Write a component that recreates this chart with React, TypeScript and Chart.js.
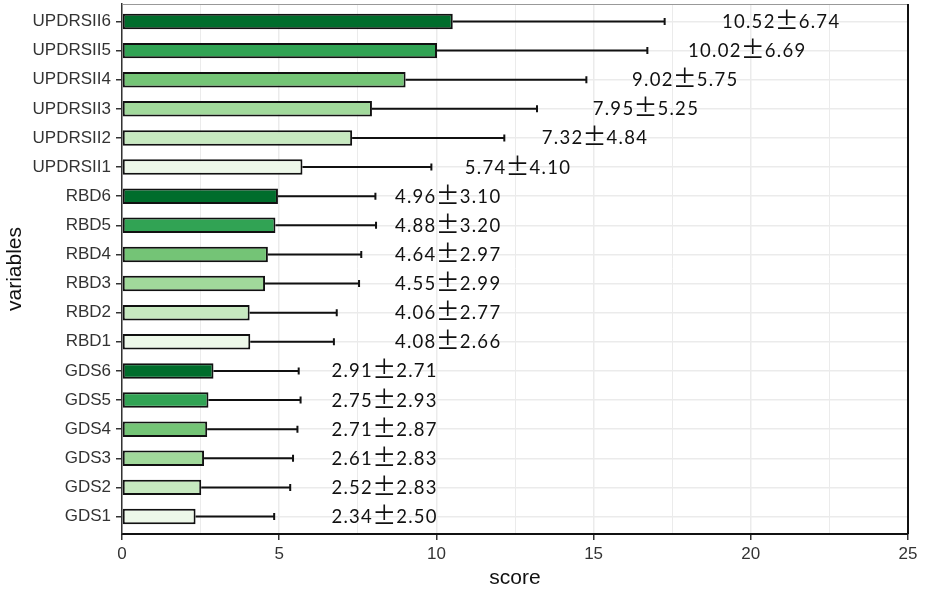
import { useEffect, useRef } from "react";
import { Chart, registerables } from "chart.js";
import type { ChartConfiguration, Plugin } from "chart.js";

Chart.register(...registerables);

const categories = [
  "UPDRSII6",
  "UPDRSII5",
  "UPDRSII4",
  "UPDRSII3",
  "UPDRSII2",
  "UPDRSII1",
  "RBD6",
  "RBD5",
  "RBD4",
  "RBD3",
  "RBD2",
  "RBD1",
  "GDS6",
  "GDS5",
  "GDS4",
  "GDS3",
  "GDS2",
  "GDS1",
];
const means = [
  10.52, 10.02, 9.02, 7.95, 7.32, 5.74, 4.96, 4.88, 4.64, 4.55, 4.06, 4.08, 2.91,
  2.75, 2.71, 2.61, 2.52, 2.34,
];
const sds = [
  6.74, 6.69, 5.75, 5.25, 4.84, 4.1, 3.1, 3.2, 2.97, 2.99, 2.77, 2.66, 2.71, 2.93,
  2.87, 2.83, 2.83, 2.5,
];
// where each "mean ± sd" label starts, in score units
const labelAt = [
  19.08, 18.0, 16.22, 14.97, 13.35, 10.9, 8.68, 8.68, 8.68, 8.68, 8.68, 8.68, 6.66,
  6.66, 6.66, 6.66, 6.66, 6.66,
];
// Greens, time point 6 down to 1
const shades = ["#006D2C", "#31A354", "#74C476", "#A1D99B", "#C7E9C0", "#EDF8E9"];

const errorBars: Plugin<"bar"> = {
  id: "errorBars",
  afterDatasetsDraw(chart) {
    const { ctx } = chart;
    const x = chart.scales.x;
    const y = chart.scales.y;
    ctx.save();
    ctx.strokeStyle = "#111";
    ctx.lineWidth = 2;
    means.forEach((m, i) => {
      const py = y.getPixelForValue(i);
      const x1 = x.getPixelForValue(m);
      const x2 = x.getPixelForValue(m + sds[i]);
      ctx.beginPath();
      ctx.moveTo(x1, py);
      ctx.lineTo(x2, py);
      ctx.moveTo(x2, py - 3.5);
      ctx.lineTo(x2, py + 3.5);
      ctx.stroke();
    });
    ctx.restore();
  },
};

const valueLabels: Plugin<"bar"> = {
  id: "valueLabels",
  afterDraw(chart) {
    const { ctx } = chart;
    const x = chart.scales.x;
    const y = chart.scales.y;
    ctx.save();
    ctx.fillStyle = "#111";
    ctx.textBaseline = "alphabetic";
    means.forEach((m, i) => {
      const x0 = x.getPixelForValue(labelAt[i]);
      const base = y.getPixelForValue(i) + 6.5;
      const left = m.toFixed(2);
      const right = sds[i].toFixed(2);
      ctx.font = "18.5px Lato";
      (ctx as any).letterSpacing = "1.3px";
      ctx.textAlign = "left";
      ctx.fillText(left, x0, base);
      const w1 = ctx.measureText(left).width;
      const pmCenter = x0 + w1 + 11;
      ctx.fillText(right, pmCenter + 12, base);
      (ctx as any).letterSpacing = "0px";
      ctx.font = "24px 'Noto Sans CJK SC'";
      ctx.textAlign = "center";
      ctx.fillText("\u00B1", pmCenter, base + 1);
    });
    ctx.restore();
  },
};

const panelFrame: Plugin<"bar"> = {
  id: "panelFrame",
  afterDraw(chart) {
    const { ctx, chartArea } = chart;
    ctx.save();
    ctx.strokeStyle = "#999";
    ctx.lineWidth = 1;
    ctx.beginPath();
    ctx.moveTo(chartArea.left, chartArea.top + 0.5);
    ctx.lineTo(chartArea.right, chartArea.top + 0.5);
    ctx.stroke();
    ctx.strokeStyle = "#111";
    ctx.lineWidth = 2;
    ctx.beginPath();
    ctx.moveTo(chartArea.right, chartArea.top);
    ctx.lineTo(chartArea.right, chartArea.bottom);
    ctx.stroke();
    ctx.restore();
  },
};

export default function App() {
  const canvasRef = useRef<HTMLCanvasElement>(null);
  const chartInstance = useRef<Chart | null>(null);

  useEffect(() => {
    document.body.style.margin = "0";
    if (!canvasRef.current) return;
    const ctx = canvasRef.current.getContext("2d");
    if (!ctx) return;

    const config: ChartConfiguration<"bar"> = {
      type: "bar",
      data: {
        datasets: [
          {
            data: means.map((m, i) => ({ x: m, y: i })) as any,
            backgroundColor: categories.map((_, i) => shades[i % 6]),
            borderColor: "#111",
            borderWidth: 2,
            borderSkipped: false,
            barPercentage: 0.53,
            categoryPercentage: 1,
          },
        ],
      },
      options: {
        indexAxis: "y",
        animation: false,
        responsive: true,
        maintainAspectRatio: false,
        layout: { padding: { top: 4, right: 27, left: 0, bottom: 0 } },
        scales: {
          x: {
            type: "linear",
            min: 0,
            max: 25,
            afterFit: (scale) => {
              scale.height = 57;
              scale.paddingLeft = 0;
              scale.paddingRight = 0;
            },
            ticks: {
              stepSize: 2.5,
              autoSkip: false,
              maxRotation: 0,
              padding: 4,
              color: "#333",
              font: { family: "'Liberation Sans', Arial", size: 17 },
              callback: (v) => (Number(v) % 5 === 0 ? String(v) : ""),
            },
            grid: {
              color: "#EBEBEB",
              lineWidth: (c) => (c.tick && c.tick.value % 5 === 0 ? 1.5 : 1),
              tickColor: (c) =>
                c.tick && c.tick.value % 5 === 0 ? "#333" : "rgba(0,0,0,0)",
              tickLength: 6,
              tickWidth: 1.5,
            },
            border: { display: true, color: "#111", width: 2 },
            title: {
              display: true,
              text: "score",
              color: "#111",
              font: { family: "'Liberation Sans', Arial", size: 21 },
              padding: { top: 0, bottom: 0 },
            },
          },
          y: {
            type: "linear",
            min: -0.6,
            max: categories.length - 0.4,
            reverse: true,
            offset: false,
            bounds: "data",
            afterBuildTicks: (scale) => {
              scale.ticks = categories.map((_, i) => ({ value: i }));
            },
            afterFit: (scale) => {
              scale.width = 122;
              scale.paddingTop = 0;
              scale.paddingBottom = 0;
            },
            ticks: {
              autoSkip: false,
              padding: 5,
              color: "#333",
              font: { family: "'Liberation Sans', Arial", size: 17 },
              callback: (v) => categories[Number(v)] ?? "",
            },
            grid: {
              offset: false,
              color: "#EBEBEB",
              lineWidth: 1.5,
              tickColor: "#333",
              tickLength: 6,
              tickWidth: 1.5,
            },
            border: { display: true, color: "#333", width: 1.5 },
            title: {
              display: true,
              text: "variables",
              color: "#111",
              font: { family: "'Liberation Sans', Arial", size: 21 },
              padding: { top: 3, bottom: 0 },
            },
          },
        },
        plugins: {
          legend: { display: false },
          tooltip: { enabled: false },
        },
      },
      plugins: [errorBars, valueLabels, panelFrame],
    };

    chartInstance.current = new Chart(ctx, config);

    return () => {
      if (chartInstance.current) {
        chartInstance.current.destroy();
      }
    };
  }, []);

  return (
    <div style={{ width: 935, height: 591, position: "relative", background: "#fff" }}>
      <canvas ref={canvasRef} />
    </div>
  );
}
